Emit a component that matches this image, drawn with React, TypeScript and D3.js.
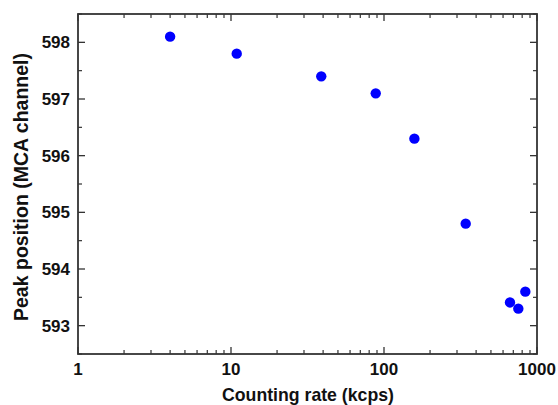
import React from "react";
import * as d3 from "d3";

const rates = [4.0, 10.9, 38.9, 88.3, 158, 342, 666, 755, 839];
const peaks = [598.1, 597.8, 597.4, 597.1, 596.3, 594.8, 593.41, 593.3, 593.6];
const xTickValues = [1, 10, 100, 1000];
const yTickValues = [593, 594, 595, 596, 597, 598];
const xTitle = "Counting rate (kcps)";
const yTitle = "Peak position (MCA channel)";

const W = 558, H = 405;
const L = 78, R = 537, T = 14, B = 354;
const FONT = "'Liberation Sans', Arial, Helvetica, sans-serif";
const AX = "#333";

export default function App() {
  const x = d3.scaleLog().domain([1, 1000]).range([L, R]);
  const y = d3.scaleLinear().domain([592.5, 598.5]).range([B, T]);

  const minorX: number[] = [];
  for (let d = 1; d < 1000; d *= 10) for (let k = 2; k <= 9; k++) minorX.push(d * k);
  const minorY = d3.range(592.5, 598.51, 1);

  return (
    <svg width={W} height={H} style={{ position: "absolute", left: 0, top: 0 }}>
      <rect width={W} height={H} fill="#fff" />
      {xTickValues.map((v) => (
        <g key={"xt" + v}>
          <line x1={x(v)} x2={x(v)} y1={B} y2={B - 7} stroke={AX} strokeWidth={1.3} />
          <line x1={x(v)} x2={x(v)} y1={T} y2={T + 7} stroke={AX} strokeWidth={1.3} />
          <text x={x(v)} y={375} fontFamily={FONT} fontWeight="bold" fontSize={17} textAnchor="middle" fill="#111">{v}</text>
        </g>
      ))}
      {minorX.map((v) => (
        <g key={"xm" + v}>
          <line x1={x(v)} x2={x(v)} y1={B} y2={B - 4} stroke={AX} strokeWidth={1.2} />
          <line x1={x(v)} x2={x(v)} y1={T} y2={T + 4} stroke={AX} strokeWidth={1.2} />
        </g>
      ))}
      {yTickValues.map((v) => (
        <g key={"yt" + v}>
          <line x1={L} x2={L + 7} y1={y(v)} y2={y(v)} stroke={AX} strokeWidth={1.3} />
          <line x1={R} x2={R - 7} y1={y(v)} y2={y(v)} stroke={AX} strokeWidth={1.3} />
          <text x={70} y={y(v) + 6} fontFamily={FONT} fontWeight="bold" fontSize={17} textAnchor="end" fill="#111">{v}</text>
        </g>
      ))}
      {minorY.map((v) => (
        <g key={"ym" + v}>
          <line x1={L} x2={L + 4} y1={y(v)} y2={y(v)} stroke={AX} strokeWidth={1.2} />
          <line x1={R} x2={R - 4} y1={y(v)} y2={y(v)} stroke={AX} strokeWidth={1.2} />
        </g>
      ))}
      <rect x={L} y={T} width={R - L} height={B - T} fill="none" stroke={AX} strokeWidth={1.8} />
      {rates.map((r, i) => (
        <circle key={i} cx={x(r)} cy={y(peaks[i])} r={5.2} fill="#0000ff" />
      ))}
      <text x={308} y={401} fontFamily={FONT} fontWeight="bold" fontSize={17.7} textAnchor="middle" fill="#111">{xTitle}</text>
      <text transform={`translate(28, 187) rotate(-90)`} fontFamily={FONT} fontWeight="bold" fontSize={19.5} textAnchor="middle" fill="#111">{yTitle}</text>
    </svg>
  );
}
